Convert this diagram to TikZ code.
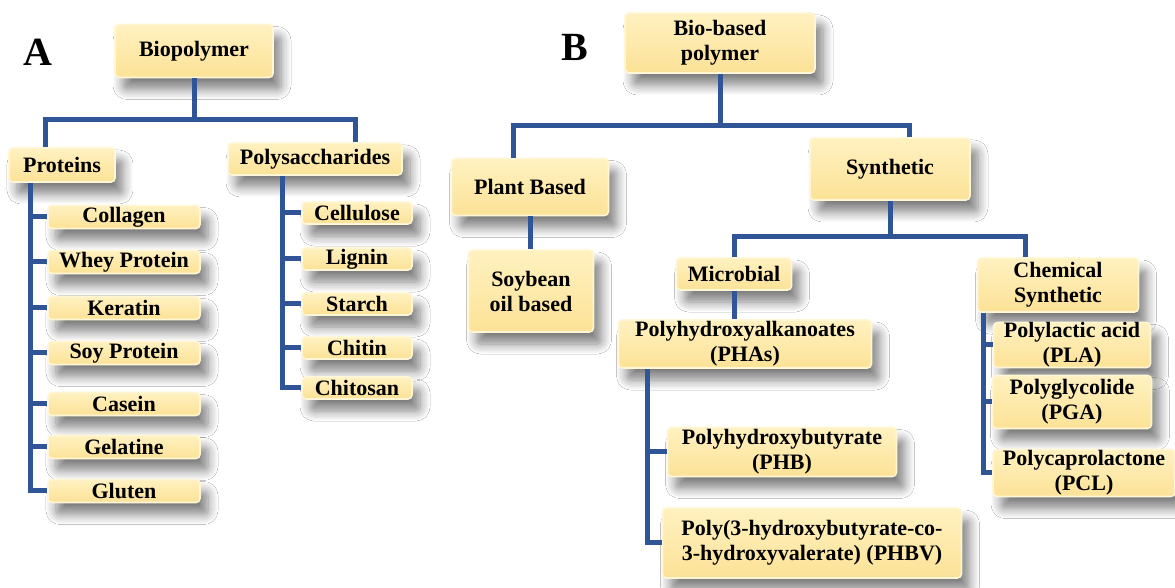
\documentclass[tikz,border=0pt]{standalone}
\usepackage{fontspec}
\setmainfont{Liberation Serif}
\usetikzlibrary{shadows.blur,calc}
\definecolor{boxtop}{HTML}{FFF1C0}
\definecolor{boxbot}{HTML}{FCE297}
\definecolor{boxedge}{HTML}{FFF6D6}
\definecolor{linkblue}{HTML}{2F5597}
\tikzset{
  bx/.style={rectangle, rounded corners=2pt, top color=boxtop, bottom color=boxbot,
    draw=boxedge, line width=0.8pt, inner sep=0pt, align=center,
    font=\bfseries\fontsize{11}{12.5}\selectfont,
    blur shadow={shadow xshift=4pt, shadow yshift=-6pt, shadow blur radius=5pt, shadow blur steps=10, shadow opacity=50}},
  conn/.style={draw=linkblue, line width=2.5pt},
  panel/.style={font=\bfseries\fontsize{20}{22}\selectfont, inner sep=0pt}
}
\begin{document}
\begin{tikzpicture}[x=0.5pt,y=-0.5pt]
\useasboundingbox (0,0) rectangle (1175,588);
\fill[white] (0,0) rectangle (1175,588);
% ---------------- Panel A ----------------
\node[panel] (labA) at (38,52) {A};
\node[bx, minimum width=79pt, minimum height=26.5pt] (bio) at (194,51) {Biopolymer};
\node[bx, minimum width=53pt, minimum height=17pt] (prot) at (62,165) {Proteins};
\node[bx, minimum width=87pt, minimum height=16pt] (poly) at (315,159) {Polysaccharides};
\foreach \n/\t/\y in {col/Collagen/217, whey/Whey Protein/262, ker/Keratin/308, soyp/Soy Protein/353, cas/Casein/404, gel/Gelatine/447, glu/Gluten/491}
  \node[bx, minimum width=76pt, minimum height=11.5pt] (\n) at (124,\y) {\t};
\foreach \n/\t/\y in {cel/Cellulose/213, lig/Lignin/259, sta/Starch/304, chi/Chitin/348, chs/Chitosan/388}
  \node[bx, minimum width=55pt, minimum height=11pt] (\n) at (357,\y) {\t};
\coordinate (hA) at (0,120);
\coordinate (pv) at ([xshift=-16pt]prot.south);
\coordinate (sv) at ([xshift=-16.5pt]poly.south);
\draw[conn] (bio.south) -- (bio.south |- hA);
\draw[conn] ([xshift=-8.5pt]prot.north) |- (bio.south |- hA) -| ([xshift=20pt]poly.north);
\draw[conn] (pv) |- (glu.west);
\foreach \n in {col,whey,ker,soyp,cas,gel}
  \draw[conn] (pv |- \n.west) -- (\n.west);
\draw[conn] (sv) |- (chs.west);
\foreach \n in {cel,lig,sta,chi}
  \draw[conn] (sv |- \n.west) -- (\n.west);
% ---------------- Panel B ----------------
\node[panel] (labB) at (575,47) {B};
\node[bx, minimum width=95pt, minimum height=30pt] (bb) at (720,43) {Bio-based\\polymer};
\node[bx, minimum width=78.5pt, minimum height=28.5pt] (plant) at (530,187) {Plant Based};
\node[bx, minimum width=80pt, minimum height=31pt] (syn) at (890,169) {Synthetic};
\node[bx, minimum width=62.5pt, minimum height=41pt] (soy) at (531,291) {Soybean\\oil based};
\node[bx, minimum width=57.5pt, minimum height=16pt] (mic) at (734,274) {Microbial};
\node[bx, minimum width=80.5pt, minimum height=27pt] (chem) at (1058,285) {Chemical\\Synthetic};
\node[bx, minimum width=126.5pt, minimum height=24pt] (pha) at (745,344) {Polyhydroxyalkanoates\\(PHAs)};
\node[bx, minimum width=114.5pt, minimum height=24.5pt] (phb) at (782,452) {Polyhydroxybutyrate\\(PHB)};
\node[bx, minimum width=149.5pt, minimum height=35pt] (phbv) at (812,543) {Poly(3-hydroxybutyrate-co-\\3-hydroxyvalerate) (PHBV)};
\node[bx, minimum width=78.5pt, minimum height=22.5pt] (pla) at (1072,345) {Polylactic acid\\(PLA)};
\node[bx, minimum width=79.5pt, minimum height=26.5pt] (pga) at (1072,402) {Polyglycolide\\(PGA)};
\node[bx, minimum width=91pt, minimum height=23.5pt] (pcl) at (1084,473) {Polycaprolactone\\(PCL)};
\coordinate (hB) at (0,126);
\coordinate (hC) at (0,237);
\coordinate (phv) at ([xshift=-49pt]pha.south);
\coordinate (chv) at ([xshift=-37.5pt]chem.south);
\draw[conn] (bb.south) -- (bb.south |- hB);
\draw[conn] ([xshift=-8.5pt]plant.north) |- (bb.south |- hB) -| ([xshift=9.5pt]syn.north);
\draw[conn] (plant.south) -- (plant.south |- soy.north);
\draw[conn] (syn.south) -- (syn.south |- hC);
\draw[conn] (mic.north) |- (syn.south |- hC) -| ([xshift=-16.5pt]chem.north);
\draw[conn] (mic.south) -- (mic.south |- pha.north);
\draw[conn] (phv) |- (phbv.west);
\draw[conn] (phv |- phb.west) -- (phb.west);
\draw[conn] (chv) |- (pcl.west);
\draw[conn] (chv |- pla.west) -- (pla.west);
\draw[conn] (chv |- pga.west) -- (pga.west);
\end{tikzpicture}
\end{document}
